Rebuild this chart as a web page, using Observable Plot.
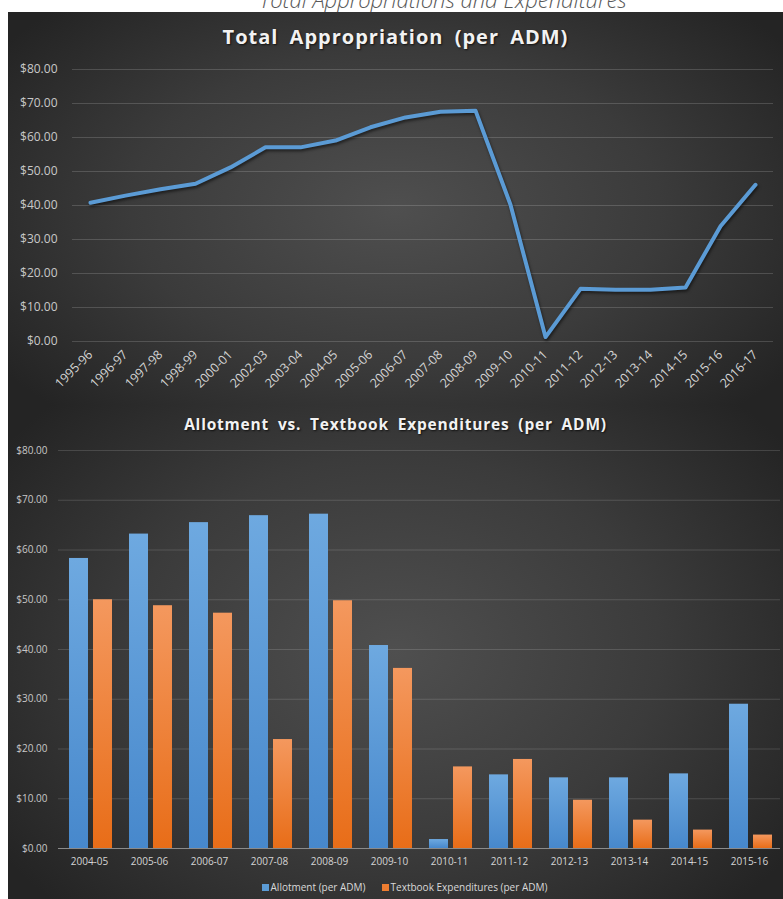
<!DOCTYPE html>
<html>
<head>
<meta charset="utf-8">
<script src="https://cdn.jsdelivr.net/npm/d3@7"></script>
<script src="https://cdn.jsdelivr.net/npm/@observablehq/plot@0.6"></script>
<style>
  html, body { margin: 0; padding: 0; background: #ffffff; }
  body { width: 783px; height: 899px; overflow: hidden; position: relative; font-family: "Open Sans", sans-serif; }
  #heading { position: absolute; top: -16px; left: 0; width: 886px; text-align: center; font-style: italic; font-weight: 300; font-size: 22px; color: #595959; white-space: nowrap; }
  .panel { position: absolute; left: 8px; width: 775px; overflow: hidden;
    background: radial-gradient(ellipse 62% 72% at 50% 50%, #4f4f4f 0%, #3b3b3b 55%, #242424 100%); }
  #p1 { top: 12px; height: 393px; }
  #p2 { top: 405px; height: 494px; }
  .title { color: #f2f2f2; text-align: center; font-weight: 700; white-space: nowrap; text-shadow: 1px 1px 2px rgba(0,0,0,0.7); }
  #t1 { height: 45px; line-height: 50px; font-size: 20px; letter-spacing: 1px; word-spacing: 5px; }
  #t2 { height: 38px; line-height: 38px; font-size: 15.5px; letter-spacing: 0.8px; word-spacing: 4px; }
  #legend { height: 24px; line-height: 24px; text-align: center; font-size: 10px; color: #d9d9d9; padding-left: 18px; }
  #legend span.sw { display: inline-block; width: 7px; height: 7px; margin-right: 2px; vertical-align: 0px; }
  #legend span.item { margin: 0 8px; }
  svg { display: block; }
</style>
</head>
<body>
<div id="heading">Total Appropriations and Expenditures</div>
<div class="panel" id="p1"><div class="title" id="t1">Total Appropriation (per ADM)</div><div id="c1"></div></div>
<div class="panel" id="p2"><div class="title" id="t2">Allotment vs. Textbook Expenditures (per ADM)</div><div id="c2"></div>
  <div id="legend"><span class="item"><span class="sw" style="background:#5b9bd5"></span>Allotment (per ADM)</span><span class="item"><span class="sw" style="background:#ed7d31"></span>Textbook Expenditures (per ADM)</span></div>
</div>
<script>
// ---- Data: Total Appropriation (per ADM) ----
const years1 = ["1995-96","1996-97","1997-98","1998-99","2000-01","2002-03","2003-04","2004-05","2005-06","2006-07","2007-08","2008-09","2009-10","2010-11","2011-12","2012-13","2013-14","2014-15","2015-16","2016-17"];
const appropriation = [40.8, 42.9, 44.8, 46.4, 51.2, 57.1, 57.1, 59.1, 63.0, 65.9, 67.6, 67.9, 40.2, 1.3, 15.5, 15.2, 15.2, 15.9, 33.9, 46.1];

// ---- Data: Allotment vs. Textbook Expenditures (per ADM) ----
const years2 = ["2004-05","2005-06","2006-07","2007-08","2008-09","2009-10","2010-11","2011-12","2012-13","2013-14","2014-15","2015-16"];
const allotment = [58.3, 63.2, 65.5, 66.9, 67.2, 40.8, 1.8, 14.8, 14.2, 14.2, 15.0, 29.0];
const textbook = [50.0, 48.8, 47.3, 21.9, 49.8, 36.2, 16.4, 17.9, 9.7, 5.7, 3.7, 2.7];

// ---- Tick labels ----
const yTicks = [0, 10, 20, 30, 40, 50, 60, 70, 80];
const fmt = d => "$" + d.toFixed(2);

const lineData = years1.map((y, i) => ({year: y, value: appropriation[i]}));
const allotData = years2.map((y, i) => ({year: y, value: allotment[i]}));
const textData = years2.map((y, i) => ({year: y, value: textbook[i]}));

const chart1 = Plot.plot({
  width: 775, height: 348,
  marginTop: 12, marginBottom: 64, marginLeft: 64, marginRight: 10,
  style: {background: "transparent", fontFamily: "Open Sans, sans-serif", overflow: "visible"},
  x: {type: "point", domain: years1, padding: 0.5},
  y: {domain: [0, 80]},
  marks: [
    Plot.ruleY(yTicks, {stroke: "#ffffff", strokeOpacity: 0.16, strokeWidth: 1}),
    Plot.axisY(yTicks, {tickFormat: fmt, tickSize: 0, tickPadding: 15, label: null, fill: "#c8c8c8", fontSize: 12}),
    Plot.axisX({tickSize: 0, tickPadding: 11, tickRotate: -45, label: null, fill: "#d4d4d4", fontSize: 12.5}),
    Plot.line(lineData, {x: "year", y: "value", stroke: "#5b9bd5", strokeWidth: 4, strokeLinejoin: "round", strokeLinecap: "round"})
  ]
});
document.getElementById("c1").appendChild(chart1);
d3.select(chart1).selectAll("path").filter(function(){ return this.getAttribute("stroke") === "#5b9bd5" || (this.parentNode && this.parentNode.getAttribute("stroke") === "#5b9bd5"); })
  .style("filter", "drop-shadow(1.5px 2px 1.5px rgba(0,0,0,0.55))");

const defs = () => {
  const d = d3.create("svg:defs");
  const g1 = d.append("linearGradient").attr("id", "gBlue").attr("x1", 0).attr("y1", 0).attr("x2", 0).attr("y2", 1);
  g1.append("stop").attr("offset", "0%").attr("stop-color", "#6ea9e0");
  g1.append("stop").attr("offset", "100%").attr("stop-color", "#4788cc");
  const g2 = d.append("linearGradient").attr("id", "gOrange").attr("x1", 0).attr("y1", 0).attr("x2", 0).attr("y2", 1);
  g2.append("stop").attr("offset", "0%").attr("stop-color", "#f4985e");
  g2.append("stop").attr("offset", "100%").attr("stop-color", "#e86d18");
  return d.node();
};

const chart2 = Plot.plot({
  width: 775, height: 432,
  marginTop: 7, marginBottom: 27, marginLeft: 50, marginRight: 3,
  style: {background: "transparent", fontFamily: "Open Sans, sans-serif", overflow: "visible"},
  x: {type: "band", domain: years2, padding: 0},
  y: {domain: [0, 80]},
  marks: [
    defs,
    Plot.ruleY(yTicks.filter(t => t > 0), {stroke: "#ffffff", strokeOpacity: 0.14, strokeWidth: 1}),
    Plot.axisY(yTicks, {tickFormat: fmt, tickSize: 0, tickPadding: 11, label: null, fill: "#c8c8c8", fontSize: 10}),
    Plot.axisX({tickSize: 0, tickPadding: 9, label: null, fill: "#d4d4d4", fontSize: 10}),
    Plot.barY(allotData, {x: "year", y: "value", fill: "url(#gBlue)", insetLeft: 10, insetRight: 31}),
    Plot.barY(textData, {x: "year", y: "value", fill: "url(#gOrange)", insetLeft: 34, insetRight: 7}),
    Plot.ruleY([0], {stroke: "#8a8a8a", strokeWidth: 1})
  ]
});
document.getElementById("c2").appendChild(chart2);
</script>
</body>
</html>
